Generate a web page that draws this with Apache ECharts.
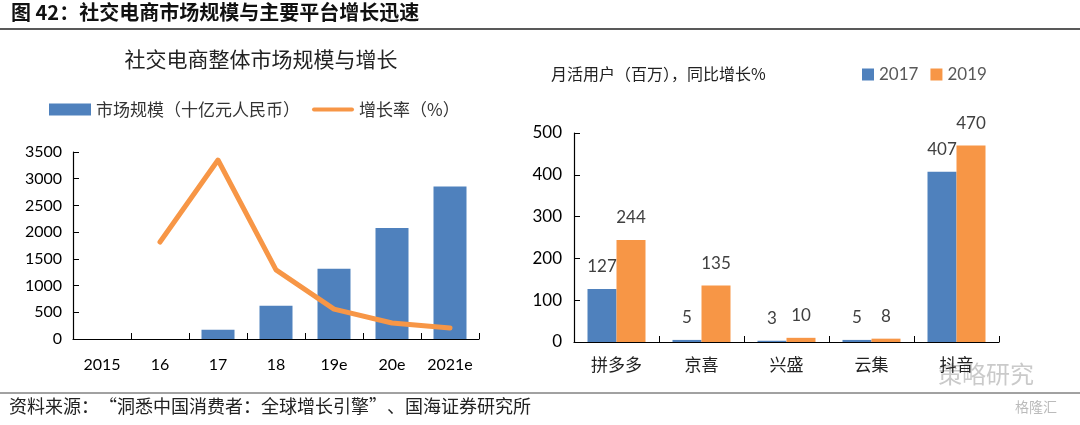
<!DOCTYPE html>
<html><head><meta charset="utf-8">
<script src="https://cdn.jsdelivr.net/npm/echarts@6/dist/echarts.min.js"></script>
<style>html,body{margin:0;padding:0;background:#fff}#c{width:1080px;height:425px}</style>
</head><body><div id="c"></div>
<script>
// Left chart data
const years = ['2015', '16', '17', '18', '19e', '20e', '2021e'];
const marketSize = [null, null, 174, 623, 1316, 2078, 2856];        // 十亿元人民币
const growthRate = [null, 363, 670, 259, 112, 60, 41];              // %
const leftTicks = [0, 500, 1000, 1500, 2000, 2500, 3000, 3500];

// Right chart data
const platforms = ['拼多多', '京喜', '兴盛', '云集', '抖音'];
const mau2017 = [127, 5, 3, 5, 407];
const mau2019 = [244, 135, 10, 8, 470];
const rightTicks = [0, 100, 200, 300, 400, 500];

const BLUE = '#4F81BD', ORANGE = '#F79646';
const CJK = '"Noto Sans CJK SC", sans-serif';
const NUM = 'Lato, "Open Sans", sans-serif';

const chart = echarts.init(document.getElementById('c'));
const axisLine = {show: true, lineStyle: {color: '#000', width: 1.2}};
chart.setOption({
  backgroundColor: '#fff',
  animation: false,
  title: [
    {text: '社交电商整体市场规模与增长', left: 256, top: 44, textAlign: 'center',
     textStyle: {fontFamily: CJK, fontSize: 21, fontWeight: 'normal', color: '#222'}},
    {text: '月活用户（百万），同比增长%', left: 546, top: 61,
     textStyle: {fontFamily: CJK, fontSize: 16, fontWeight: 'normal', color: '#222'}}
  ],
  legend: [
    {data: [{name: '市场规模（十亿元人民币）', icon: 'rect'},
            {name: '增长率（%）', icon: 'path://M2,0L40,0A2,2,0,0,1,40,4L2,4A2,2,0,0,1,2,0Z'}],
     left: 44, top: 96, itemWidth: 42, itemHeight: 12, itemGap: 12,
     textStyle: {fontFamily: CJK, fontSize: 17, color: '#333'}},
    {data: [{name: '2017', icon: 'rect'}, {name: '2019', icon: 'rect'}],
     left: 857, top: 61, itemWidth: 12, itemHeight: 12, itemGap: 12,
     textStyle: {fontFamily: NUM, fontSize: 17, color: '#595959'}}
  ],
  grid: [
    {left: 73, top: 152, width: 406, height: 187},
    {left: 574, top: 133, width: 425, height: 209}
  ],
  xAxis: [
    {type: 'category', gridIndex: 0, data: years, axisLine: axisLine,
     axisTick: {show: true, inside: true, length: 6, lineStyle: {color: '#000'}},
     axisLabel: {interval: 0, fontFamily: NUM, fontSize: 16, color: '#000', margin: 18}},
    {type: 'category', gridIndex: 1, data: platforms, axisLine: axisLine,
     axisTick: {show: true, inside: true, length: 6, lineStyle: {color: '#000'}},
     axisLabel: {interval: 0, fontFamily: CJK, fontSize: 17, color: '#222', margin: 14}}
  ],
  yAxis: [
    {type: 'value', gridIndex: 0, min: leftTicks[0], max: leftTicks[leftTicks.length - 1], interval: 500,
     axisLine: axisLine, axisTick: {show: true, inside: true, length: 6, lineStyle: {color: '#000'}},
     splitLine: {show: false},
     axisLabel: {fontFamily: NUM, fontSize: 16, color: '#000', margin: 11, formatter: v => String(v)}},
    {type: 'value', gridIndex: 0, min: 0, max: 700, show: false, splitLine: {show: false}},
    {type: 'value', gridIndex: 1, min: rightTicks[0], max: rightTicks[rightTicks.length - 1], interval: 100,
     axisLine: axisLine, axisTick: {show: true, inside: true, length: 6, lineStyle: {color: '#000'}},
     splitLine: {show: false},
     axisLabel: {fontFamily: NUM, fontSize: 17, color: '#000', margin: 12}}
  ],
  series: [
    {name: '市场规模（十亿元人民币）', type: 'bar', xAxisIndex: 0, yAxisIndex: 0, data: marketSize,
     barWidth: 33, itemStyle: {color: BLUE}},
    {name: '增长率（%）', type: 'line', xAxisIndex: 0, yAxisIndex: 1, data: growthRate,
     symbol: 'none', lineStyle: {color: ORANGE, width: 5, cap: 'round', join: 'round'},
     itemStyle: {color: ORANGE}},
    {name: '2017', type: 'bar', xAxisIndex: 1, yAxisIndex: 2, data: mau2017,
     barWidth: 29, barGap: '0%', itemStyle: {color: BLUE},
     label: {show: true, position: 'top', distance: 14, fontFamily: NUM, fontSize: 17, color: '#404040'}},
    {name: '2019', type: 'bar', xAxisIndex: 1, yAxisIndex: 2, data: mau2019,
     barWidth: 29, barGap: '0%', itemStyle: {color: ORANGE},
     label: {show: true, position: 'top', distance: 14, fontFamily: NUM, fontSize: 17, color: '#404040'}}
  ],
  graphic: [
    {type: 'text', left: 11, top: 2, style: {text: '图 42：社交电商市场规模与主要平台增长迅速',
      fontFamily: CJK, fontSize: 20, fontWeight: 'bold', fill: '#111'}},
    {type: 'line', shape: {x1: 0, y1: 29, x2: 1080, y2: 29}, style: {stroke: '#222', lineWidth: 1.5}},
    {type: 'line', shape: {x1: 0, y1: 393, x2: 1080, y2: 393}, style: {stroke: '#444', lineWidth: 1}},
    {type: 'text', left: 9, top: 397, style: {text: '资料来源：“洞悉中国消费者：全球增长引擎”、国海证券研究所',
      fontFamily: CJK, fontSize: 18, fill: '#222'}},
    {type: 'text', left: 938, top: 362, style: {text: '策略研究', fontFamily: CJK, fontSize: 24,
      fill: 'rgba(150,150,150,0.5)'}},
    {type: 'text', left: 1015, top: 400, style: {text: '格隆汇', fontFamily: CJK, fontSize: 14,
      fill: 'rgba(170,170,170,0.8)'}}
  ]
});
</script></body></html>
